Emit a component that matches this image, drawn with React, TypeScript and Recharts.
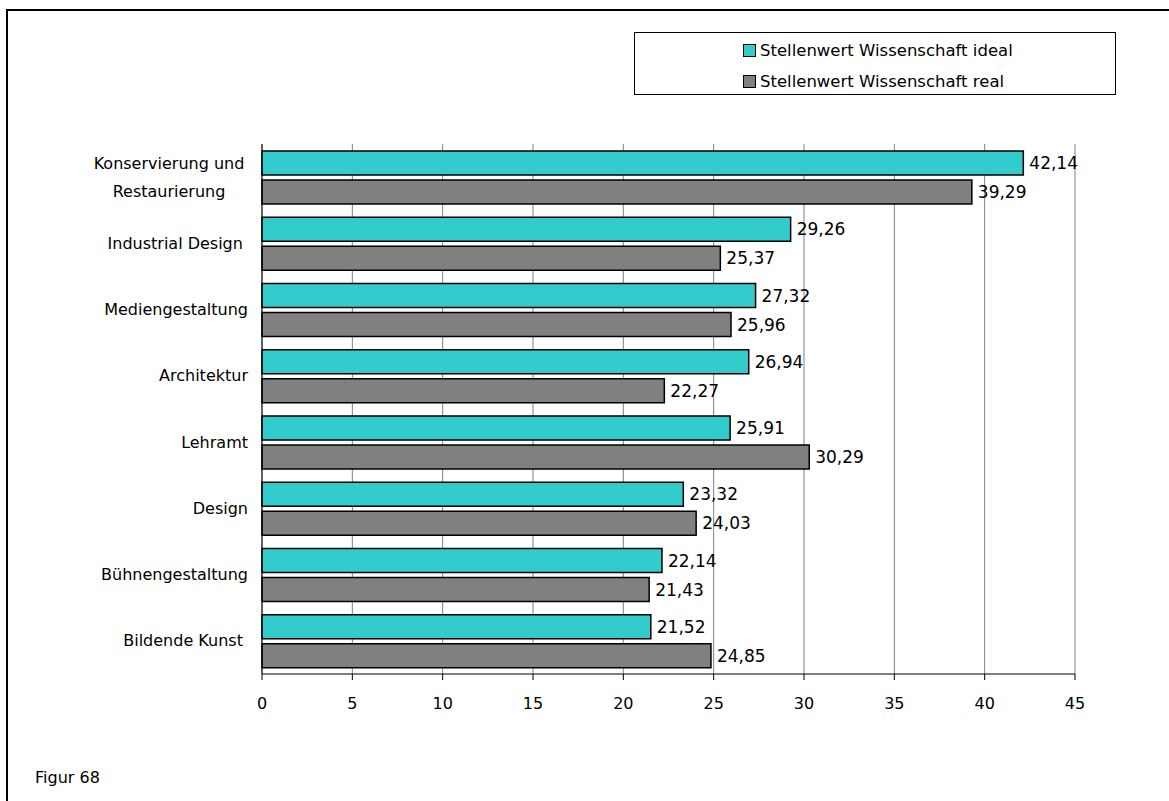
import React from 'react';
import { BarChart, Bar, XAxis, YAxis, CartesianGrid, LabelList } from 'recharts';

const categories = [
  'Konservierung und\nRestaurierung',
  'Industrial Design ',
  'Mediengestaltung',
  'Architektur',
  'Lehramt',
  'Design',
  'Bühnengestaltung',
  'Bildende Kunst ',
];
const idealValues = [42.14, 29.26, 27.32, 26.94, 25.91, 23.32, 22.14, 21.52];
const realValues = [39.29, 25.37, 25.96, 22.27, 30.29, 24.03, 21.43, 24.85];
const seriesNames = ['Stellenwert Wissenschaft ideal', 'Stellenwert Wissenschaft real'];
const seriesColors = ['#33CCCC', '#808080'];
const xTicks = [0, 5, 10, 15, 20, 25, 30, 35, 40, 45];
const figureCaption = 'Figur 68';

const FONT = "'DejaVu Sans', sans-serif";

const data = categories.map((name, i) => ({ name, ideal: idealValues[i], real: realValues[i] }));

const fmt = (v: any) => (typeof v === 'number' ? v.toFixed(2).replace('.', ',') : v);

const CategoryTick = (props: any) => {
  const { x, y, payload } = props;
  const lines = String(payload.value).split('\n');
  if (lines.length > 1) {
    const lh = 28;
    const start = y - ((lines.length - 1) * lh) / 2;
    return (
      <g>
        {lines.map((l, i) => (
          <text key={i} x={x - 79} y={start + i * lh} dy="0.35em" textAnchor="middle" fontSize={16} fill="#000" fontFamily={FONT} style={{ whiteSpace: 'pre' }}>
            {l}
          </text>
        ))}
      </g>
    );
  }
  return (
    <text x={x} y={y} dy="0.35em" textAnchor="end" fontSize={16} fill="#000" fontFamily={FONT} style={{ whiteSpace: 'pre' }}>
      {lines[0]}
    </text>
  );
};

export default function App() {
  return (
    <div style={{ position: 'absolute', left: 0, top: 0, width: 1169, height: 801, background: '#fff', fontFamily: FONT, overflow: 'hidden' }}>
      <div style={{ position: 'absolute', left: 6, top: 9, width: 1163, height: 792, borderLeft: '2px solid #000', borderTop: '2px solid #000', boxSizing: 'border-box' }} />
      <BarChart
        width={1169}
        height={801}
        data={data}
        layout="vertical"
        margin={{ top: 144, right: 94, bottom: 97, left: 12 }}
        barCategoryGap={7}
        barGap={5}
        style={{ position: 'absolute', left: 0, top: 0, fontFamily: FONT }}
      >
        <CartesianGrid horizontal={false} stroke="#808080" strokeWidth={1} />
        <XAxis
          type="number"
          domain={[0, 45]}
          ticks={xTicks}
          interval={0}
          height={30}
          axisLine={{ stroke: '#000', strokeWidth: 1 }}
          tickLine={{ stroke: '#000' }}
          tickSize={6}
          tickMargin={18}
          tick={{ fill: '#000', fontSize: 16, fontFamily: FONT }}
        />
        <YAxis
          type="category"
          dataKey="name"
          width={250}
          axisLine={{ stroke: '#000', strokeWidth: 1 }}
          tickLine={false}
          tickSize={0}
          tickMargin={14}
          interval={0}
          tick={<CategoryTick />}
        />
        <Bar dataKey="ideal" name={seriesNames[0]} fill={seriesColors[0]} stroke="#000" strokeWidth={1.5} isAnimationActive={false}>
          <LabelList dataKey="ideal" position="right" offset={6} formatter={fmt} fill="#000" fontSize={17} fontFamily={FONT} />
        </Bar>
        <Bar dataKey="real" name={seriesNames[1]} fill={seriesColors[1]} stroke="#000" strokeWidth={1.5} isAnimationActive={false}>
          <LabelList dataKey="real" position="right" offset={6} formatter={fmt} fill="#000" fontSize={17} fontFamily={FONT} />
        </Bar>
      </BarChart>
      <div style={{ position: 'absolute', left: 634, top: 32, width: 482, height: 63, border: '1px solid #000', boxSizing: 'border-box', background: '#fff' }}>
        {seriesNames.map((n, i) => (
          <div key={n} style={{ position: 'absolute', left: 108, top: 6 + i * 31, height: 22, display: 'flex', alignItems: 'center', fontSize: 16.5, color: '#000', whiteSpace: 'nowrap' }}>
            <span style={{ display: 'inline-block', width: 11, height: 11, background: seriesColors[i], border: '1px solid #000', marginRight: 4 }} />
            <span>{n}</span>
          </div>
        ))}
      </div>
      <div style={{ position: 'absolute', left: 35, top: 768, fontSize: 16, color: '#000', lineHeight: '19px' }}>{figureCaption}</div>
    </div>
  );
}
